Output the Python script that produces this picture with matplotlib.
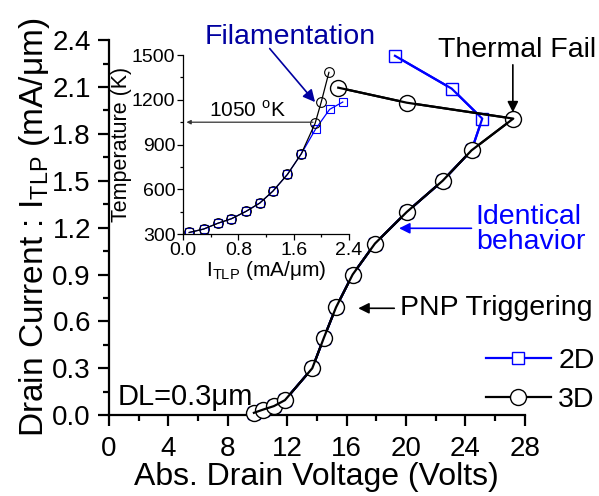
import matplotlib
matplotlib.use('Agg')
import matplotlib.pyplot as plt
from matplotlib.ticker import MultipleLocator, FormatStrFormatter

plt.rcParams['font.family'] = ['Liberation Sans', 'DejaVu Sans']
plt.rcParams['mathtext.fontset'] = 'custom'
plt.rcParams['mathtext.rm'] = 'Liberation Sans'

# main plot data: drain voltage (V) vs drain current (mA/um)
v_2d = [9.76, 10.39, 11.11, 11.85, 13.69, 14.48, 15.29, 16.41, 17.91, 20.05, 22.47, 24.42, 25.14, 23.08, 19.26]
i_2d = [0.015, 0.036, 0.058, 0.096, 0.30, 0.497, 0.69, 0.90, 1.098, 1.30, 1.50, 1.695, 1.898, 2.09, 2.30]
v_3d = [9.76, 10.39, 11.11, 11.85, 13.69, 14.48, 15.29, 16.41, 17.91, 20.05, 22.47, 24.42, 27.23, 20.05, 15.44]
i_3d = [0.015, 0.036, 0.058, 0.096, 0.30, 0.497, 0.69, 0.90, 1.098, 1.30, 1.50, 1.695, 1.898, 2.0, 2.096]

# inset data: I_TLP vs temperature (K)
it_2d = [0.09, 0.30, 0.50, 0.70, 0.91, 1.11, 1.30, 1.51, 1.71, 1.92, 2.12, 2.31]
t_2d = [311, 334, 372, 403, 452, 508, 588, 700, 838, 1006, 1136, 1185]
it_3d = [0.09, 0.30, 0.50, 0.70, 0.91, 1.11, 1.30, 1.51, 1.71, 1.91, 2.00, 2.11]
t_3d = [311, 334, 372, 403, 452, 508, 588, 700, 838, 1042, 1187, 1384]

fig = plt.figure(figsize=(5.99, 4.96), dpi=100)
ax = fig.add_axes([0.182, 0.163, 0.694, 0.756])

# markers with white fill, then the line again on top (Origin style)
ax.plot(v_2d, i_2d, color='#0000ff', lw=1.6, marker='s', ms=9.2, mfc='white', mec='#0000ff',
        mew=1.0, label='2D', clip_on=False, zorder=3)
ax.plot(v_2d, i_2d, color='#0000ff', lw=1.6, clip_on=False, zorder=3.5)
ax.plot(v_3d, i_3d, color='black', lw=1.6, marker='o', ms=11.5, mfc='white', mec='black',
        mew=1.0, label='3D', clip_on=False, zorder=4)
ax.plot(v_3d, i_3d, color='black', lw=1.6, clip_on=False, zorder=5)

ax.set_xlim(0, 28)
ax.set_ylim(0, 2.4)
ax.xaxis.set_major_locator(MultipleLocator(4))
ax.xaxis.set_minor_locator(MultipleLocator(2))
ax.yaxis.set_major_locator(MultipleLocator(0.3))
ax.yaxis.set_minor_locator(MultipleLocator(0.15))
ax.yaxis.set_major_formatter(FormatStrFormatter('%.1f'))
for s in ['top', 'right']:
    ax.spines[s].set_visible(False)
for s in ['left', 'bottom']:
    ax.spines[s].set_linewidth(1.6)
ax.tick_params(which='major', direction='out', length=8, width=1.6, labelsize=20)
ax.tick_params(axis='x', which='major', pad=7)
ax.tick_params(axis='y', which='major', pad=5)
ax.tick_params(which='minor', direction='out', length=4, width=1.6)
ax.set_xlabel('Abs. Drain Voltage (Volts)', fontsize=23, labelpad=0)
ax.set_ylabel('Drain Current : I$_{\\mathregular{TLP}}$ (mA/\u03bcm)', fontsize=24, labelpad=0)

leg = ax.legend(loc='lower right', bbox_to_anchor=(1.23, -0.062), frameon=False, fontsize=20.5,
                handlelength=2.3, handletextpad=0.25, labelspacing=0.45)

# annotations
ax.text(12.2, 2.42, 'Filamentation', color='#0000a0', fontsize=20.5, ha='center', va='center', clip_on=False)
ax.annotate('', xy=(14.0, 1.99), xytext=(10.7, 2.36), annotation_clip=False,
            arrowprops=dict(arrowstyle='-|>', color='#0000a0', lw=1.2, mutation_scale=18))
ax.text(27.5, 2.34, 'Thermal Fail', color='black', fontsize=20.5, ha='center', va='center', clip_on=False)
ax.annotate('', xy=(27.2, 1.92), xytext=(27.2, 2.26), annotation_clip=False,
            arrowprops=dict(arrowstyle='-|>', color='black', lw=1.2, mutation_scale=16))
ax.text(24.7, 1.19, 'Identical\nbehavior', color='#0000ff', fontsize=20.5, ha='left', va='center',
        linespacing=0.95, clip_on=False)
ax.annotate('', xy=(19.35, 1.196), xytext=(24.6, 1.196), annotation_clip=False,
            arrowprops=dict(arrowstyle='-|>', color='#0000ff', lw=1.2, mutation_scale=16))
ax.text(19.6, 0.684, 'PNP Triggering', color='black', fontsize=20.5, ha='left', va='center', clip_on=False)
ax.annotate('', xy=(16.6, 0.684), xytext=(19.4, 0.684), annotation_clip=False,
            arrowprops=dict(arrowstyle='-|>', color='black', lw=1.2, mutation_scale=16))
ax.text(0.6, 0.115, 'DL=0.3\u03bcm', color='black', fontsize=21, ha='left', va='center')

# inset
ins = fig.add_axes([0.3055, 0.528, 0.2771, 0.361])
ins.patch.set_alpha(0)
ins.plot(it_2d, t_2d, color='#0000ff', lw=0.9, marker='s', ms=5.5, mfc='none', mec='#0000ff', mew=0.8)
ins.plot(it_3d, t_3d, color='black', lw=0.9, marker='o', ms=7, mfc='none', mec='black', mew=0.8)
ins.set_xlim(0, 2.4)
ins.set_ylim(300, 1500)
ins.xaxis.set_major_locator(MultipleLocator(0.8))
ins.xaxis.set_minor_locator(MultipleLocator(0.4))
ins.yaxis.set_major_locator(MultipleLocator(300))
ins.yaxis.set_minor_locator(MultipleLocator(150))
ins.xaxis.set_major_formatter(FormatStrFormatter('%.1f'))
for s in ['top', 'right']:
    ins.spines[s].set_visible(False)
for s in ['left', 'bottom']:
    ins.spines[s].set_linewidth(0.9)
ins.tick_params(which='major', direction='out', length=4, width=0.9, labelsize=14, pad=1.5)
ins.tick_params(which='minor', direction='out', length=2.5, width=0.9)
ins.set_xlabel('I$_{\\mathregular{TLP}}$ (mA/\u03bcm)', fontsize=15, labelpad=0)
ins.set_ylabel('Temperature (K)', fontsize=15.5, labelpad=0)
ins.annotate('', xy=(0.01, 1050), xytext=(1.92, 1050),
             arrowprops=dict(arrowstyle='-|>', color='#333333', lw=0.9, mutation_scale=6))
ins.text(0.93, 1058, '1050 $^{\\mathregular{o}}$K', fontsize=15, ha='center', va='bottom')

fig.savefig('out.png', dpi=100)
